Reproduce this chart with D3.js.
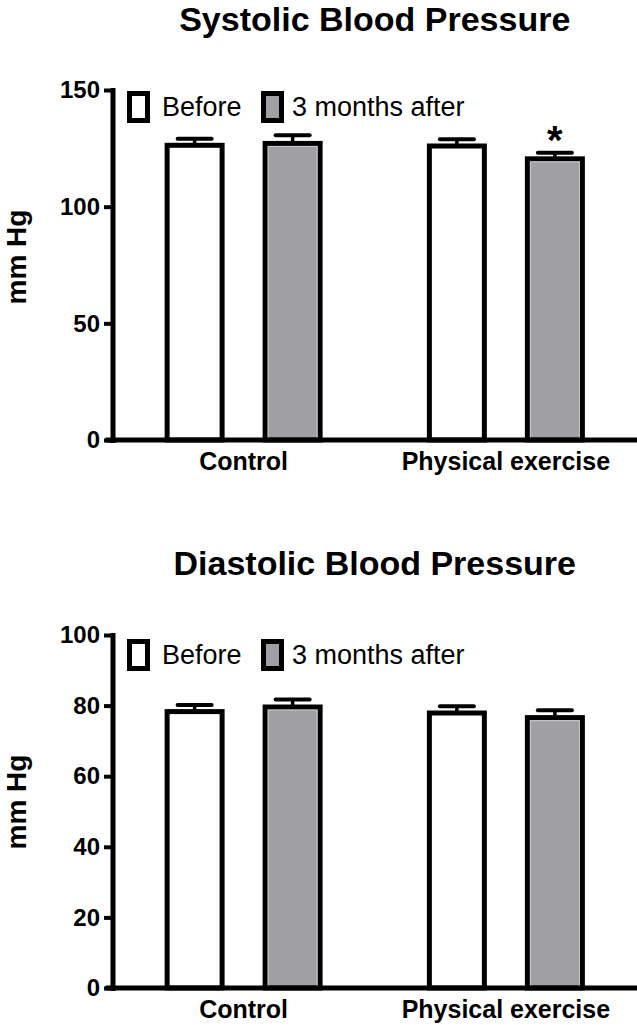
<!DOCTYPE html>
<html>
<head>
<meta charset="utf-8">
<script src="https://cdn.jsdelivr.net/npm/d3@7"></script>
<style>
  body { margin: 0; background: #fff; }
  text { font-family: "Liberation Sans", Arial, Helvetica, sans-serif; fill: #000; }
</style>
</head>
<body>
<script>
// donnees
var groups = ["Control", "Physical exercise"];
var series = ["Before", "3 months after"];

var sbpBefore = [126.3, 126.0];
var sbpAfter = [127.1, 120.5];
var sbpBeforeSem = [2.8, 2.9];
var sbpAfterSem = [3.5, 2.6];
var sbpStars = ["", "*"];
var sbpTicks = [0, 50, 100, 150];

var dbpBefore = [78.3, 77.9];
var dbpAfter = [79.6, 76.6];
var dbpBeforeSem = [1.9, 1.9];
var dbpAfterSem = [2.1, 2.1];
var dbpStars = ["", ""];
var dbpTicks = [0, 20, 40, 60, 80, 100];

var width = 637, height = 1025;
var axisX = 112.5;
var grey = "#a09fa4";

var svg = d3.select("body").append("svg")
    .attr("width", width)
    .attr("height", height);

function drawPanel(opt) {
    var y = d3.scaleLinear().domain([0, opt.ticks[opt.ticks.length - 1]]).range([opt.bottom, opt.top]);
    var x0 = d3.scaleBand().domain(groups).range([axisX, width]);
    var x1 = d3.scaleBand().domain(series).range([-79, 79]).paddingInner(0.388);
    var fills = d3.scaleOrdinal().domain(series).range(["#fff", grey]);

    var g = svg.append("g");

    // titre
    g.append("text")
        .attr("x", (axisX + width) / 2)
        .attr("y", opt.titleY)
        .attr("text-anchor", "middle")
        .attr("font-size", 34)
        .attr("font-weight", "bold")
        .text(opt.title);

    // barres
    var rows = [];
    groups.forEach(function (grp, i) {
        series.forEach(function (s, j) {
            rows.push({
                grp: grp, s: s,
                v: opt.means[j][i],
                e: opt.sems[j][i],
                star: j == 1 ? opt.stars[i] : ""
            });
        });
    });

    var bw = x1.bandwidth();
    function cx(d) { return x0(d.grp) + x0.bandwidth() / 2 + x1(d.s) + bw / 2; }

    var bar = g.selectAll(".bar").data(rows).enter().append("g");

    // barre d'erreur
    bar.append("line")
        .attr("x1", cx).attr("x2", cx)
        .attr("y1", function (d) { return y(d.v) - 2; })
        .attr("y2", function (d) { return y(d.v + d.e); })
        .attr("stroke", "#000").attr("stroke-width", 3.5);
    bar.append("line")
        .attr("x1", function (d) { return cx(d) - 17; })
        .attr("x2", function (d) { return cx(d) + 17; })
        .attr("y1", function (d) { return y(d.v + d.e); })
        .attr("y2", function (d) { return y(d.v + d.e); })
        .attr("stroke", "#000").attr("stroke-width", 4)
        .attr("stroke-linecap", "round");

    bar.append("rect")
        .attr("x", function (d) { return cx(d) - bw / 2 + 2.5; })
        .attr("width", bw - 5)
        .attr("y", function (d) { return y(d.v); })
        .attr("height", function (d) { return y(0) - y(d.v); })
        .attr("fill", function (d) { return fills(d.s); })
        .attr("stroke", "#000")
        .attr("stroke-width", 5);

    // liseré clair dans les barres grises
    bar.filter(function (d) { return d.s == series[1]; })
        .append("rect")
        .attr("x", function (d) { return cx(d) - bw / 2 + 5.5; })
        .attr("width", bw - 11)
        .attr("y", function (d) { return y(d.v) + 3; })
        .attr("height", function (d) { return y(0) - y(d.v) - 3; })
        .attr("fill", "none")
        .attr("stroke", "#c9c9cc")
        .attr("stroke-width", 1);

    bar.filter(function (d) { return d.star != ""; })
        .append("text")
        .attr("x", cx)
        .attr("y", function (d) { return y(d.v + d.e) + 1; })
        .attr("text-anchor", "middle")
        .attr("font-size", 40)
        .attr("font-weight", "bold")
        .text(function (d) { return d.star; });

    // axe y
    var yAxis = g.append("g")
        .attr("transform", "translate(" + axisX + ",0)")
        .call(d3.axisLeft(y).tickValues(opt.ticks).tickSize(8.5).tickSizeOuter(0).tickPadding(4));
    yAxis.select(".domain").attr("stroke-width", 5).attr("stroke-linecap", "square");
    yAxis.selectAll(".tick line").attr("stroke-width", 4);
    yAxis.selectAll(".tick text")
        .attr("font-size", 24)
        .attr("font-weight", "bold")
        .attr("font-family", "Liberation Sans, Arial, sans-serif")
        .attr("fill", "#000");

    // axe x
    g.append("line")
        .attr("x1", axisX - 7).attr("x2", width)
        .attr("y1", y(0)).attr("y2", y(0))
        .attr("stroke", "#000").attr("stroke-width", 5);

    g.selectAll(".xlab").data(groups).enter().append("text")
        .attr("x", function (d) { return x0(d) + x0.bandwidth() / 2; })
        .attr("y", opt.bottom + 30)
        .attr("text-anchor", "middle")
        .attr("font-size", 25)
        .attr("font-weight", "bold")
        .text(function (d) { return d; });

    g.append("text")
        .attr("transform", "translate(26," + (opt.top + 167) + ") rotate(-90)")
        .attr("text-anchor", "middle")
        .attr("font-size", 28)
        .attr("font-weight", "bold")
        .text("mm Hg");

    // légende
    var legX = [127, 261], legTxt = [162, 292];
    var leg = g.selectAll(".leg").data(series).enter().append("g");
    leg.append("rect")
        .attr("x", function (d, i) { return legX[i] + 2.5; })
        .attr("y", opt.legendY + 2.5)
        .attr("width", 18)
        .attr("height", 27)
        .attr("fill", function (d) { return fills(d); })
        .attr("stroke", "#000")
        .attr("stroke-width", 5);
    leg.append("text")
        .attr("x", function (d, i) { return legTxt[i]; })
        .attr("y", opt.legendY + 25)
        .attr("font-size", 27)
        .text(function (d) { return d; });
}

drawPanel({
    title: "Systolic Blood Pressure",
    titleY: 31,
    top: 90, bottom: 440,
    legendY: 91,
    ticks: sbpTicks,
    means: [sbpBefore, sbpAfter],
    sems: [sbpBeforeSem, sbpAfterSem],
    stars: sbpStars
});

drawPanel({
    title: "Diastolic Blood Pressure",
    titleY: 575,
    top: 635, bottom: 988,
    legendY: 639,
    ticks: dbpTicks,
    means: [dbpBefore, dbpAfter],
    sems: [dbpBeforeSem, dbpAfterSem],
    stars: dbpStars
});
</script>
</body>
</html>
